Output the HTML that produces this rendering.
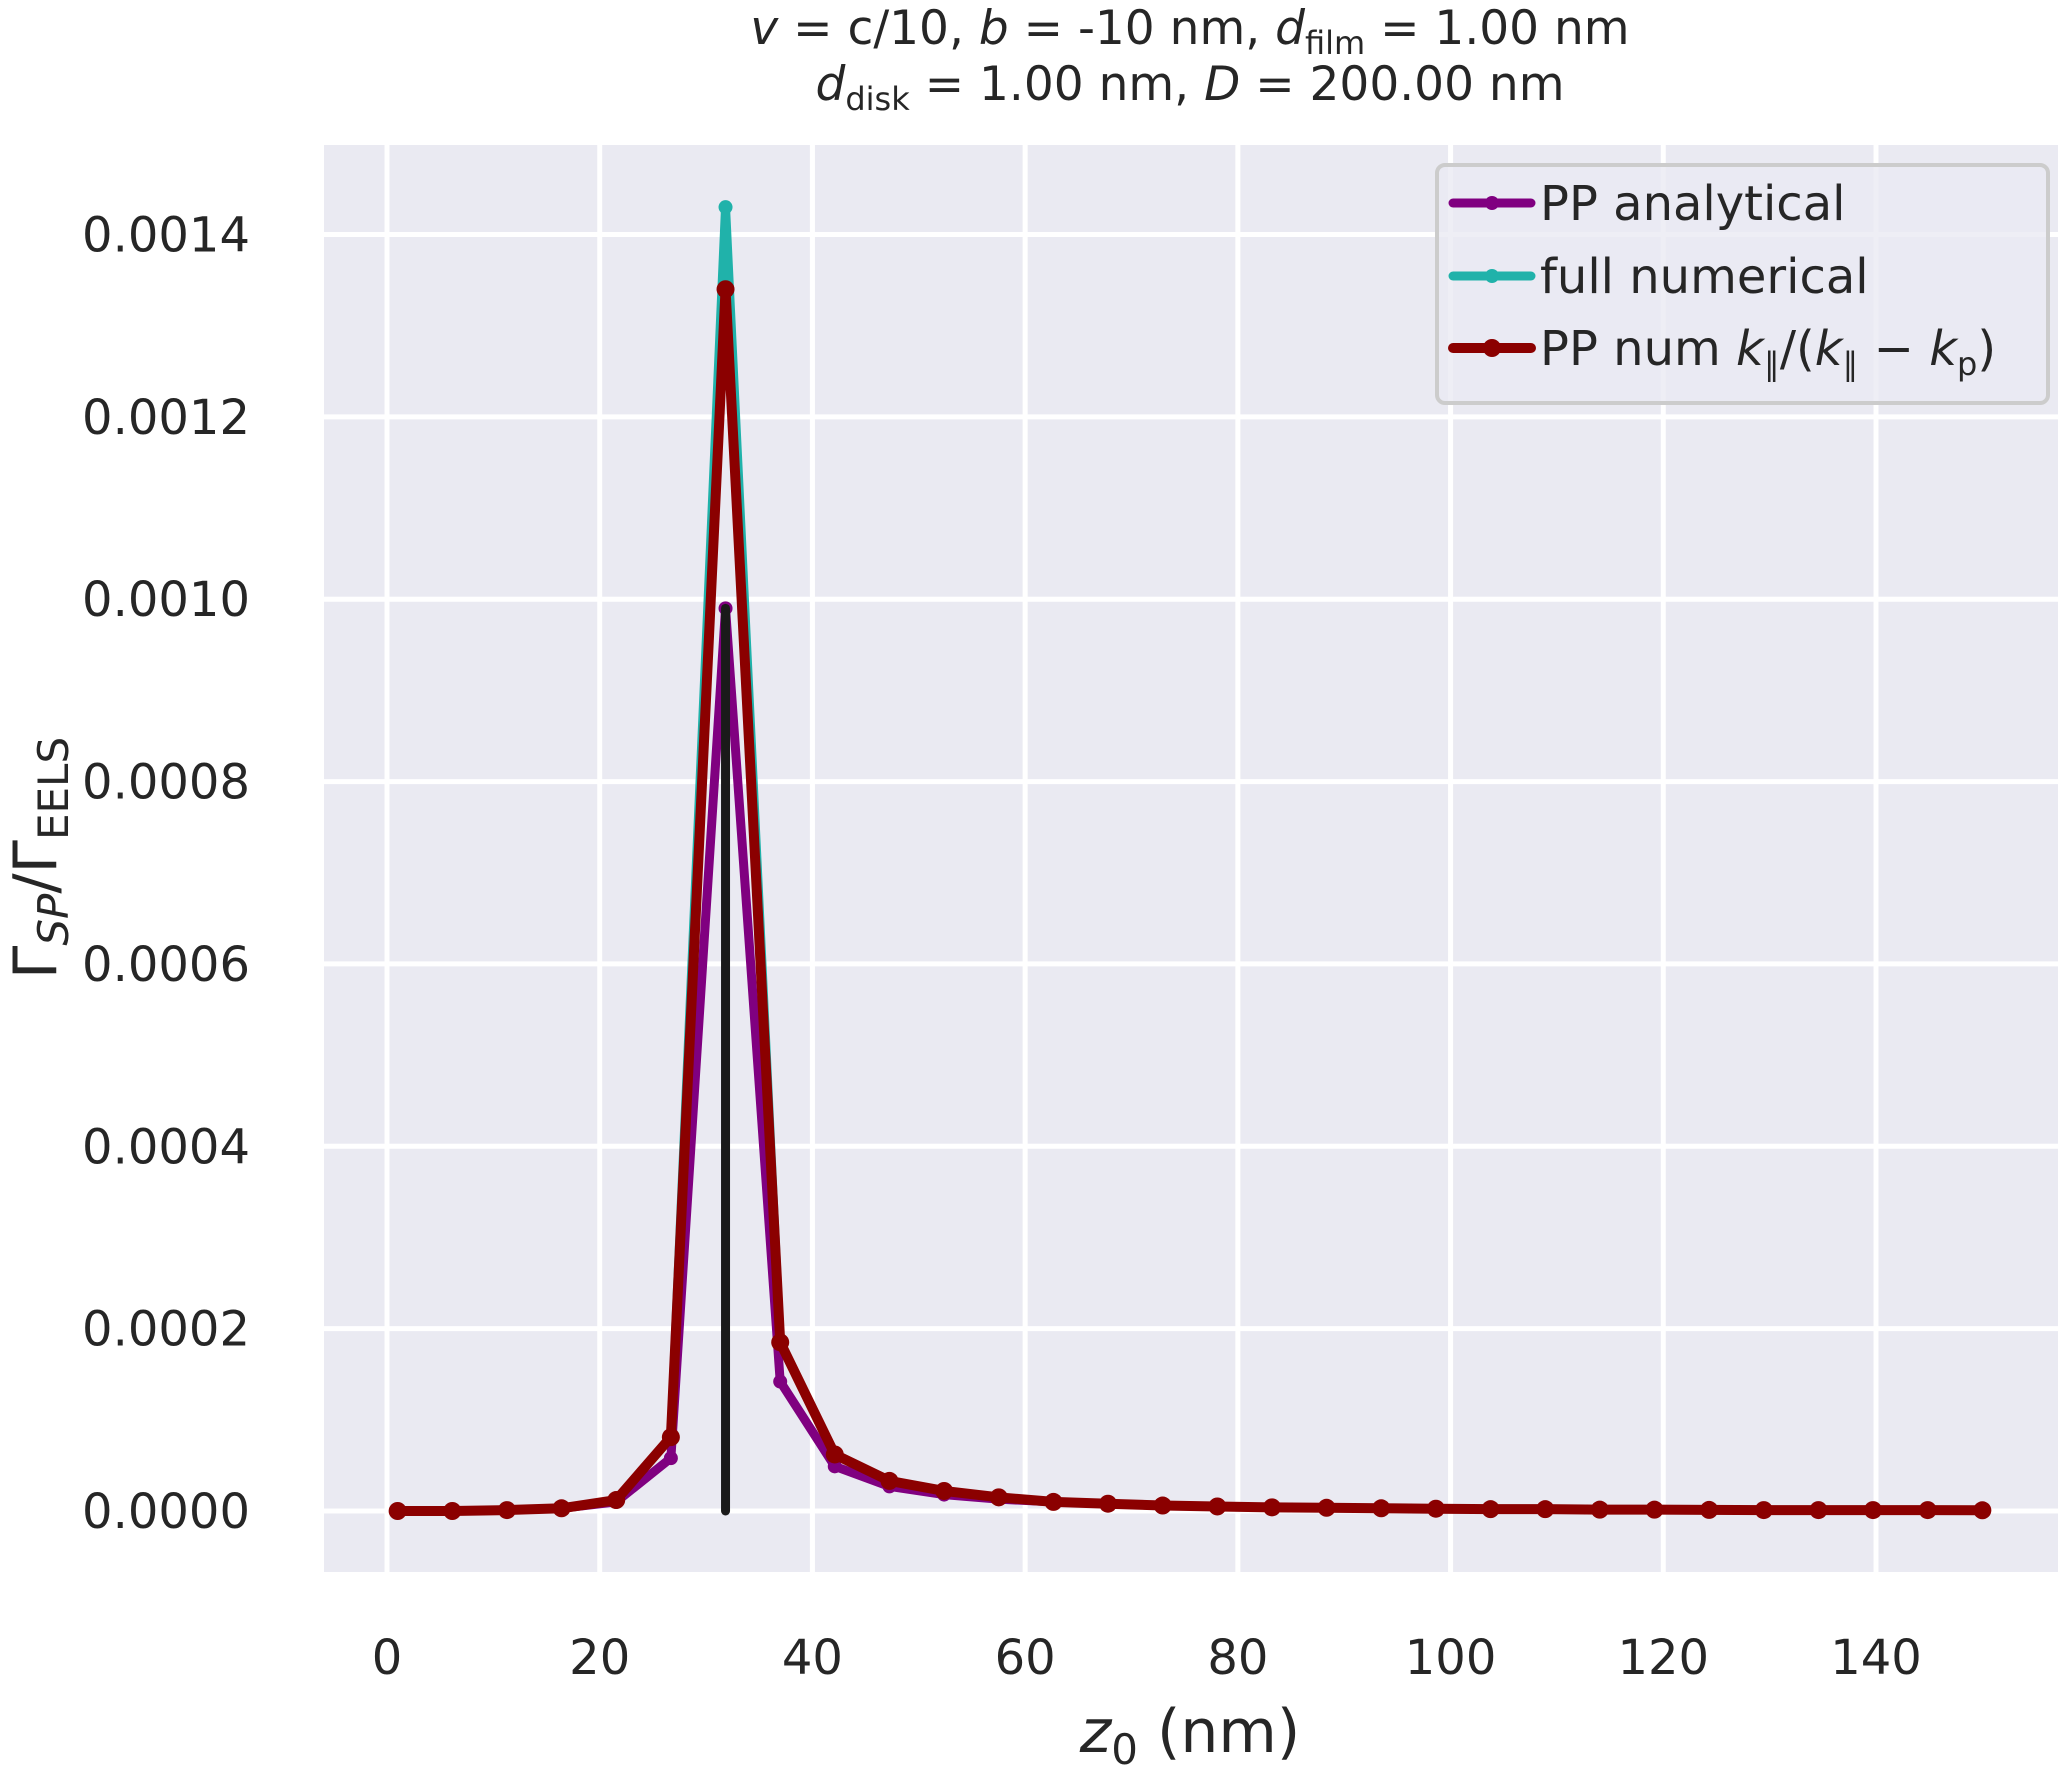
<!DOCTYPE html>
<html><head><meta charset="utf-8"><style>
html,body{margin:0;padding:0;background:#fff}
svg{display:block;font-family:"DejaVu Sans","Liberation Sans",sans-serif}
</style></head><body>
<svg id="chart" width="2066" height="1773" viewBox="0 0 2066 1773" xmlns="http://www.w3.org/2000/svg">
<rect x="324" y="145" width="1734" height="1427" fill="#eaeaf2"/>
<g id="grid"></g>
<g id="series"></g>
<g id="ticks" font-size="48" fill="#262626"></g>
<text x="1190" y="44" font-size="47" text-anchor="middle" fill="#262626"><tspan font-style="italic">v</tspan> = c/10, <tspan font-style="italic">b</tspan> = -10 nm, <tspan font-style="italic">d</tspan><tspan font-size="32" dy="10">film</tspan><tspan dy="-10"> = 1.00 nm</tspan></text>
<text x="1190" y="100" font-size="47" text-anchor="middle" fill="#262626"><tspan font-style="italic">d</tspan><tspan font-size="32" dy="10">disk</tspan><tspan dy="-10"> = 1.00 nm, </tspan><tspan font-style="italic">D</tspan> = 200.00 nm</text>
<text x="1190" y="1752" font-size="60" text-anchor="middle" fill="#262626"><tspan font-style="italic">z</tspan><tspan font-size="42" dy="12">0</tspan><tspan dy="-12"> (nm)</tspan></text>
<text transform="translate(56,858) rotate(-90)" font-size="60" text-anchor="middle" fill="#262626">Γ<tspan font-size="42" font-style="italic" dy="12">SP</tspan><tspan dy="-12">/Γ</tspan><tspan font-size="42" dy="12">EELS</tspan></text>
<g>
<rect x="1437" y="165" width="611" height="238" rx="8" fill="#eaeaf2" fill-opacity="0.8" stroke="#cccccc" stroke-width="4"/>
<g><line x1="1453" y1="203" x2="1531" y2="203" stroke="#800080" stroke-width="9" stroke-linecap="round"/><circle cx="1492" cy="203" r="7" fill="#800080"/><text x="1540" y="220" font-size="48" fill="#262626">PP analytical</text></g>
<g><line x1="1453" y1="276" x2="1531" y2="276" stroke="#20b2aa" stroke-width="9" stroke-linecap="round"/><circle cx="1492" cy="276" r="7" fill="#20b2aa"/><text x="1540" y="293" font-size="48" fill="#262626">full numerical</text></g>
<g><line x1="1453" y1="348" x2="1531" y2="348" stroke="#8b0000" stroke-width="10" stroke-linecap="round"/><circle cx="1492" cy="348" r="9" fill="#8b0000"/><text x="1540" y="365" font-size="48" fill="#262626">PP num <tspan font-style="italic">k</tspan><tspan font-size="32" dy="10">∥</tspan><tspan dy="-10">/(</tspan><tspan font-style="italic">k</tspan><tspan font-size="32" dy="10">∥</tspan><tspan dy="-10"> − </tspan><tspan font-style="italic">k</tspan><tspan font-size="32" dy="10">p</tspan><tspan dy="-10">)</tspan></text></g>
</g>
<script>
const xValues=[1,6.14,11.28,16.41,21.55,26.69,31.83,36.97,42.1,47.24,52.38,57.52,62.66,67.79,72.93,78.07,83.21,88.34,93.48,98.62,103.76,108.9,114.03,119.17,124.31,129.45,134.59,139.72,144.86,150];
const ppAnalytical=[0,0,0.000001,0.000003,0.00001,0.000058,0.00099,0.000142,0.000049,0.000027,0.000018,0.000013,0.00001,0.000008,0.000006,0.000005,0.000004,0.0000035,0.000003,0.0000025,0.000002,0.000002,0.0000015,0.0000015,0.0000012,0.000001,0.000001,0.000001,0.000001,0.0000008];
const fullNumerical=[0,0,0.000001,0.000003,0.000012,0.000081,0.00143,0.000185,0.000062,0.000033,0.000022,0.000015,0.00001,0.000008,0.000006,0.000005,0.000004,0.0000035,0.000003,0.0000025,0.000002,0.000002,0.0000015,0.0000015,0.0000012,0.000001,0.000001,0.000001,0.000001,0.0000008];
const ppNum=[0,0,0.000001,0.000003,0.000012,0.000081,0.00134,0.000185,0.000062,0.000033,0.000022,0.000015,0.00001,0.000008,0.000006,0.000005,0.000004,0.0000035,0.000003,0.0000025,0.000002,0.000002,0.0000015,0.0000015,0.0000012,0.000001,0.000001,0.000001,0.000001,0.0000008];
const markerX=[31.83];
const markerTop=[0.00099];
const xTicks=[0,20,40,60,80,100,120,140];
const yTicks=[0,0.0002,0.0004,0.0006,0.0008,0.0010,0.0012,0.0014];
const yTickLabels=["0.0000","0.0002","0.0004","0.0006","0.0008","0.0010","0.0012","0.0014"];
const NS="http://www.w3.org/2000/svg";
function sx(v){return 387+v*(1876-387)/140;}
function sy(v){return 1511-v*(1511-234.5)/0.0014;}
function mk(tag,attrs,parent){const e=document.createElementNS(NS,tag);for(const k in attrs)e.setAttribute(k,attrs[k]);parent.appendChild(e);return e;}
const grid=document.getElementById('grid'),ticks=document.getElementById('ticks'),series=document.getElementById('series');
xTicks.forEach(t=>{
  const l=mk('line',{x1:sx(t),x2:sx(t),y1:145,y2:1572,stroke:'#fff','stroke-width':5},grid);
  
  
  const tx=mk('text',{x:sx(t),y:1674,'text-anchor':'middle'},ticks);
  tx.textContent=t;
  
  
});
yTicks.forEach((t,i)=>{
  const l=mk('line',{x1:324,x2:2058,y1:sy(t),y2:sy(t),stroke:'#fff','stroke-width':5},grid);
  
  
  const tx=mk('text',{x:250,y:sy(t)+17,'text-anchor':'end'},ticks);
  tx.textContent=yTickLabels[i];
  
  
});
function drawSeries(vals,color,w,r,name){
  const g=mk('g',{},series);
  
  
  const pts=vals.map((v,i)=>sx(xValues[i])+','+sy(v)).join(' ');
  mk('polyline',{points:pts,fill:'none',stroke:color,'stroke-width':w,'stroke-linejoin':'round','stroke-linecap':'round'},g);
  vals.forEach((v,i)=>{
    const c=mk('circle',{cx:sx(xValues[i]),cy:sy(v),r:r,fill:color},g);
    
    
  });
}
drawSeries(fullNumerical,'#20b2aa',9,7,'full-numerical-series');
drawSeries(ppAnalytical,'#800080',9,7,'pp-analytical-series');
markerX.forEach((x,i)=>{
  const l=mk('line',{x1:sx(x),x2:sx(x),y1:sy(0),y2:sy(markerTop[i]),stroke:'#1a1a1a','stroke-width':9,'stroke-linecap':'round'},series);
  
  
});
drawSeries(ppNum,'#8b0000',10,9,'pp-num-series');
</script>
</svg>
</body></html>
